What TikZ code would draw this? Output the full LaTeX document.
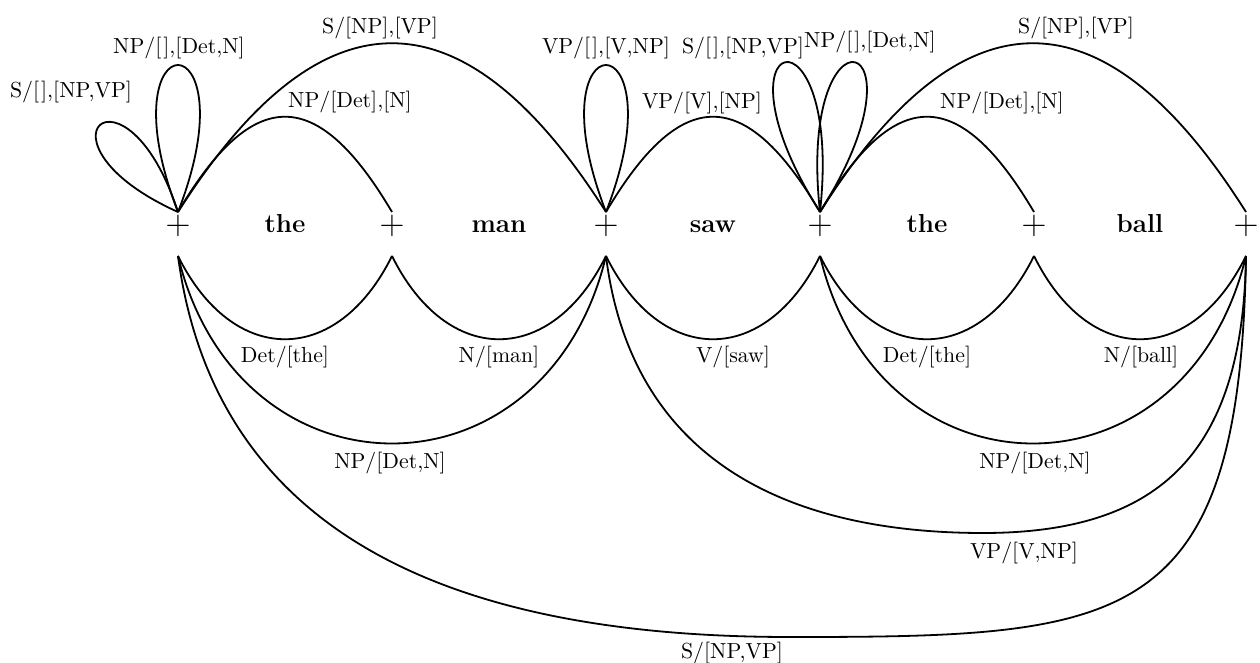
\documentclass[tikz,border=0pt]{standalone}
\begin{document}
\begin{tikzpicture}[x=0.5pt,y=-0.5pt,
  arc/.style={line width=0.9pt},
  lab/.style={font=\fontsize{10.9}{13}\selectfont, inner sep=0pt},
  word/.style={font=\fontsize{13}{15}\selectfont\bfseries, inner sep=0pt, anchor=base},
  vert/.style={font=\fontsize{18}{18}\selectfont, inner sep=0pt}]
\fill[white] (0,0) rectangle (1260,663);
\useasboundingbox (0,0) rectangle (1260,663);
% vertices
\node[vert] (v0) at (178,226) {$+$};
\node[vert] (v1) at (392,226) {$+$};
\node[vert] (v2) at (606,226) {$+$};
\node[vert] (v3) at (820,226) {$+$};
\node[vert] (v4) at (1034,226) {$+$};
\node[vert] (v5) at (1246,226) {$+$};
\foreach \i/\x in {0/178,1/392,2/606,3/820,4/1034,5/1246}{
  \coordinate (t\i) at (\x,212);
  \coordinate (b\i) at (\x,256);
}
% words
\node[word] (w1) at (285,233) {the};
\node[word] (w2) at (499,233) {man};
\node[word] (w3) at (713,233) {saw};
\node[word] (w4) at (927,233) {the};
\node[word] (w5) at (1140,233) {ball};
% top arcs
\draw[arc] (t0) .. controls +(75,-127) and +(-75,-127) .. (t1);
\draw[arc] (t0) .. controls +(143,-225) and +(-143,-225) .. (t2);
\draw[arc] (t2) .. controls +(75,-127) and +(-75,-127) .. (t3);
\draw[arc] (t3) .. controls +(75,-127) and +(-75,-127) .. (t4);
\draw[arc] (t3) .. controls +(142,-225) and +(-142,-225) .. (t5);
% loops
\draw[arc] (t0) .. controls +(-52.7,-162) and +(-155.3,-70) .. (t0);
\draw[arc] (t0) .. controls +(-76,-196) and +(76,-196) .. (t0);
\draw[arc] (t2) .. controls +(-76,-196) and +(76,-196) .. (t2);
\draw[arc] (t3) .. controls +(23.6,-216) and +(-116.6,-183.4) .. (t3);
\draw[arc] (t3) .. controls +(116.6,-183.4) and +(-23.6,-216) .. (t3);
% bottom arcs
\draw[arc] (b0) .. controls +(55,111) and +(-55,111) .. (b1);
\draw[arc] (b1) .. controls +(55,111) and +(-55,111) .. (b2);
\draw[arc] (b2) .. controls +(55,111) and +(-55,111) .. (b3);
\draw[arc] (b3) .. controls +(55,111) and +(-55,111) .. (b4);
\draw[arc] (b4) .. controls +(55,111) and +(-55,111) .. (b5);
\draw[arc] (b0) .. controls +(60,250) and +(-60,250) .. (b2);
\draw[arc] (b3) .. controls +(60,250) and +(-60,250) .. (b5);
\draw[arc] (b2) .. controls (631,457) and (783,533) .. (983,533)
                .. controls (1163,533) and (1243,450) .. (b5);
\draw[arc] (b0) .. controls (218,557) and (490,637) .. (790,637)
                .. controls (1125,637) and (1240,630) .. (b5);
% labels
\node[lab] (l1) at (71,92) {S/[\kern1pt],[NP,VP]};
\node[lab] (l2) at (179,48) {NP/[\kern1pt],[Det,N]};
\node[lab] (l3) at (380,28) {S/[NP],[VP]};
\node[lab] (l4) at (350,102) {NP/[Det],[N]};
\node[lab] (l5) at (606,48) {VP/[\kern1pt],[V,NP]};
\node[lab] (l6) at (702,103) {VP/[V],[NP]};
\node[lab] (l7) at (743,48) {S/[\kern1pt],[NP,VP]};
\node[lab] (l8) at (870,42) {NP/[\kern1pt],[Det,N]};
\node[lab] (l9) at (1076,28) {S/[NP],[VP]};
\node[lab] (l10) at (1002,103) {NP/[Det],[N]};
\node[lab] (l11) at (285,357) {Det/[the]};
\node[lab] (l12) at (499,357) {N/[man]};
\node[lab] (l13) at (733,357) {V/[saw]};
\node[lab] (l14) at (927,357) {Det/[the]};
\node[lab] (l15) at (1141,357) {N/[ball]};
\node[lab] (l16) at (390,463) {NP/[Det,N]};
\node[lab] (l17) at (1035,463) {NP/[Det,N]};
\node[lab] (l18) at (1024,553) {VP/[V,NP]};
\node[lab] (l19) at (732,653) {S/[NP,VP]};
\end{tikzpicture}
\end{document}
